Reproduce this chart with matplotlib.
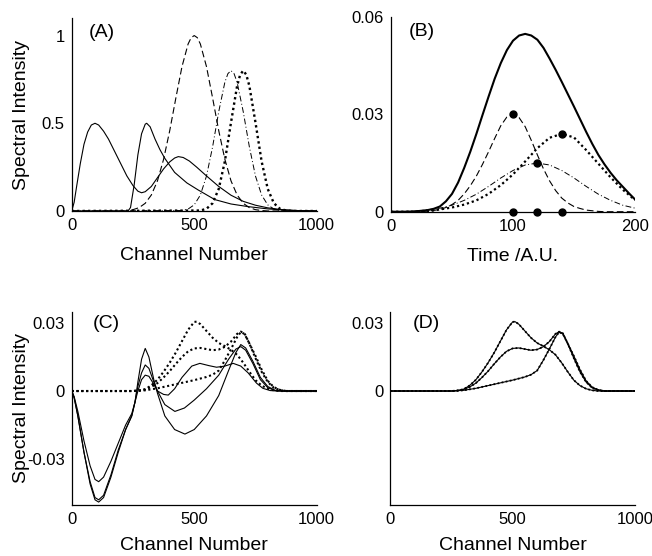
import matplotlib
matplotlib.use('Agg')
import matplotlib.pyplot as plt

plt.rcParams['font.family'] = ['Liberation Sans', 'DejaVu Sans']

# ---- (A) component spectra vs channel ----
a1_x = [0, 10, 20, 35, 50, 65, 80, 95, 110, 130, 150, 175, 200, 225, 250, 270, 285, 300, 325, 350,
        375, 400, 420, 435, 455, 480, 510, 550, 600, 650, 700, 750, 800, 850, 900, 950, 1000]
a1_y = [0, 0.05, 0.14, 0.27, 0.38, 0.45, 0.49, 0.50, 0.49, 0.455, 0.41, 0.34, 0.27, 0.20, 0.145, 0.113, 0.104, 0.11, 0.14, 0.19,
        0.24, 0.28, 0.302, 0.31, 0.305, 0.285, 0.25, 0.20, 0.14, 0.09, 0.055, 0.033, 0.018, 0.009, 0.004, 0.001, 0]

a2_x = [0, 230, 240, 255, 270, 285, 300, 306, 320, 340, 360, 380, 420, 470, 516, 584, 650, 720, 800, 870, 950, 1000]
a2_y = [0, 0, 0.02, 0.15, 0.32, 0.44, 0.495, 0.5, 0.48, 0.41, 0.35, 0.30, 0.22, 0.16, 0.12, 0.065, 0.04, 0.025, 0.012, 0.005, 0.001, 0]

a3_x = [0, 225, 250, 275, 300, 325, 350, 375, 400, 425, 450, 475, 487.5, 500, 512.5, 525, 550, 575, 600,
        625, 650, 675, 700, 725, 750, 775, 800, 1000]
a3_y = [0, 0, 0.0076, 0.0192, 0.0439, 0.0914, 0.172, 0.295, 0.458, 0.644, 0.823, 0.952, 0.988, 1.0, 0.988, 0.952, 0.823, 0.644, 0.458,
        0.295, 0.172, 0.0914, 0.0439, 0.0192, 0.0076, 0.0027, 0, 0]

a4_x = [0, 450, 475, 500, 525, 550, 575, 600, 625, 637.5, 650, 662.5, 675, 700, 725, 750, 775, 800, 825, 850, 875, 1000]
a4_y = [0, 0.003, 0.0114, 0.035, 0.091, 0.199, 0.366, 0.566, 0.734, 0.783, 0.80, 0.783, 0.734, 0.566, 0.366, 0.199, 0.091, 0.035, 0.0114, 0.003, 0, 0]

a5_x = [0, 525, 550, 575, 600, 625, 650, 675, 687.5, 700, 712.5, 725, 750, 775, 800, 825, 850, 875, 900, 1000]
a5_y = [0, 0.0028, 0.0125, 0.0445, 0.126, 0.283, 0.504, 0.713, 0.777, 0.80, 0.777, 0.713, 0.504, 0.283, 0.126, 0.0445, 0.0125, 0.0028, 0, 0]

# ---- (B) time profiles ----
b_t_fine = [0, 10, 20, 25, 30, 35, 40, 45, 50, 55, 60, 65, 70, 75, 80, 85, 90, 95, 100, 105, 110, 115, 120,
            125, 130, 135, 140, 145, 150, 155, 160, 165, 170, 175, 180, 185, 190, 195, 200]
b_total = [0, 0, 0.0001, 0.0003, 0.0005, 0.0009, 0.0016, 0.0032, 0.0055, 0.0090, 0.0135, 0.0185, 0.024, 0.0298,
           0.0355, 0.041, 0.0458, 0.0498, 0.0527, 0.0543, 0.0548, 0.0543, 0.0530, 0.0505, 0.0472, 0.0437, 0.040,
           0.0362, 0.0324, 0.0285, 0.0246, 0.0209, 0.0175, 0.0146, 0.0120, 0.0097, 0.0077, 0.0057, 0.0038]
b_dash = [0, 0, 0, 0, 0.0002, 0.0004, 0.0007, 0.0013, 0.0022, 0.0035, 0.0055, 0.008, 0.011, 0.0146, 0.0185,
          0.0226, 0.0265, 0.0292, 0.0300, 0.0290, 0.0262, 0.022, 0.0175, 0.0132, 0.0095, 0.0065, 0.0042, 0.0027,
          0.0016, 0.001, 0.0005, 0.0003, 0.0001, 0, 0, 0, 0, 0, 0]
b_t = [0, 10, 20, 30, 40, 50, 60, 70, 80, 90, 100, 110, 120, 130, 140, 150, 160, 170, 180, 190, 200]
b_dot = [0, 0, 0.00002, 0.0001, 0.0007, 0.0013, 0.0022, 0.0035, 0.0055, 0.0082, 0.0115, 0.0155, 0.0196, 0.0228,
         0.0240, 0.0229, 0.019, 0.0148, 0.0106, 0.0068, 0.0036]
b_dashdot = [0, 0, 0.00025, 0.0006, 0.0011, 0.002, 0.0035, 0.0054, 0.0078, 0.0104, 0.0127, 0.0144, 0.015, 0.0144,
             0.0127, 0.0104, 0.0078, 0.0054, 0.0035, 0.002, 0.0011]
b_mark_t = [100, 120, 140]
b_mark_y = [0.030, 0.015, 0.024]

# ---- (C) difference spectra (solid) ----
ca_x = [0, 10, 25, 50, 75, 95, 110, 130, 160, 190, 220, 245, 258, 270, 285, 300, 315, 335, 350, 380, 420, 462,
        500, 550, 600, 640, 670, 690, 710, 740, 770, 800, 830, 860, 1000]
ca_y = [0, -0.003, -0.011, -0.027, -0.041, -0.048, -0.049, -0.047, -0.038, -0.027, -0.017, -0.011, -0.005, 0.004,
        0.014, 0.0188, 0.015, 0.005, -0.001, -0.011, -0.017, -0.019, -0.017, -0.011, -0.002, 0.009, 0.017, 0.0205,
        0.019, 0.013, 0.006, 0.002, 0.0003, 0, 0]
cb_x = [0, 10, 25, 50, 75, 95, 110, 130, 160, 190, 220, 245, 258, 270, 285, 300, 315, 335, 350, 380, 421, 460,
        500, 550, 600, 640, 670, 690, 710, 740, 770, 800, 830, 860, 1000]
cb_y = [0, -0.003, -0.011, -0.027, -0.040, -0.047, -0.048, -0.046, -0.037, -0.026, -0.017, -0.011, -0.005, 0.002,
        0.008, 0.0115, 0.010, 0.004, 0.0, -0.006, -0.009, -0.0075, -0.004, 0.001, 0.007, 0.014, 0.0185, 0.0196,
        0.018, 0.012, 0.005, 0.0015, 0.0002, 0, 0]
cc_x = [0, 10, 25, 50, 75, 95, 110, 130, 160, 190, 220, 245, 258, 270, 285, 300, 315, 335, 350, 375, 394, 420,
        450, 490, 523, 560, 591, 625, 659, 690, 720, 754, 780, 810, 840, 1000]
cc_y = [0, -0.0025, -0.009, -0.022, -0.033, -0.039, -0.040, -0.038, -0.031, -0.023, -0.015, -0.010, -0.005, 0.0,
        0.005, 0.007, 0.0065, 0.003, 0.0, -0.0015, -0.0018, 0.001, 0.006, 0.011, 0.0122, 0.0112, 0.0105, 0.011,
        0.0122, 0.011, 0.008, 0.0035, 0.0012, 0.0002, 0, 0]

# ---- (C)/(D) time-resolved spectra ----
d1_x = [0, 250, 275, 300, 325, 350, 375, 400, 425, 450, 475, 500, 510, 525, 550, 575, 600, 625, 650, 675, 700,
        725, 750, 775, 800, 825, 850, 1000]
d1_y = [0, 0, 0.0002, 0.0008, 0.0025, 0.005, 0.0085, 0.0125, 0.017, 0.022, 0.027, 0.0305, 0.0306, 0.0295, 0.0265,
        0.0235, 0.0212, 0.0198, 0.0182, 0.016, 0.0125, 0.0085, 0.0048, 0.0024, 0.001, 0.0003, 0, 0]
d2_x = [0, 250, 275, 300, 325, 350, 375, 400, 425, 450, 475, 500, 525, 550, 575, 600, 625, 650, 675, 690, 705,
        725, 750, 775, 800, 825, 850, 875, 1000]
d2_y = [0, 0, 0.0002, 0.0007, 0.0018, 0.0035, 0.006, 0.0088, 0.012, 0.015, 0.0175, 0.0188, 0.019, 0.0185, 0.018,
        0.0183, 0.0195, 0.0218, 0.0252, 0.0262, 0.0255, 0.021, 0.0155, 0.0095, 0.0045, 0.0017, 0.0005, 0, 0]
d3_x = [0, 250, 300, 350, 400, 450, 500, 550, 575, 600, 625, 650, 675, 690, 705, 725, 750, 775, 800, 825, 850,
        875, 1000]
d3_y = [0, 0, 0.0003, 0.0012, 0.0024, 0.0036, 0.0048, 0.0062, 0.0072, 0.009, 0.0135, 0.0185, 0.0238, 0.026,
        0.0252, 0.021, 0.0145, 0.0085, 0.004, 0.0014, 0.0004, 0, 0]

K = 'black'
DASH = (0, (6, 3))
DASHDOT = (0, (6, 2.5, 1, 2.5))
DOT = (0, (1, 1.3))
FS_TICK = 12
FS_LAB = 14
YLAB_X = -0.204  # y-label centre, same place in (A) and (C)


def style(ax):
    for s in ('top', 'right'):
        ax.spines[s].set_visible(False)
    for s in ('left', 'bottom'):
        ax.spines[s].set_linewidth(0.9)
    ax.tick_params(length=0, labelsize=FS_TICK, pad=5)


fig = plt.figure(figsize=(6.52, 5.56), dpi=100)

# (A)
ax = fig.add_axes([0.110, 0.6205, 0.3758, 0.3471])
ax.plot(a1_x, a1_y, color=K, lw=0.8)
ax.plot(a2_x, a2_y, color=K, lw=0.8)
ax.plot(a3_x, a3_y, color=K, lw=0.8, linestyle=DASH)
ax.plot(a4_x, a4_y, color=K, lw=0.7, linestyle=DASHDOT)
ax.plot(a5_x, a5_y, color=K, lw=1.7, linestyle=DOT)
ax.set_xlim(0, 1000)
ax.set_ylim(0, 1.1)
ax.set_xticks([0, 500, 1000])
ax.set_yticks([0, 0.5, 1])
ax.set_yticklabels(['0', '0.5', '1'])
ax.set_xlabel('Channel Number', fontsize=FS_LAB, labelpad=10)
ax.set_ylabel('Spectral Intensity', fontsize=FS_LAB, va='center')
ax.yaxis.set_label_coords(YLAB_X, 0.5)
ax.text(0.122, 0.925, '(A)', transform=ax.transAxes, fontsize=FS_LAB, ha='center', va='center')
style(ax)

# (B)
ax = fig.add_axes([0.5997, 0.6192, 0.3742, 0.3502])
ax.plot(b_t_fine, b_total, color=K, lw=1.5)
ax.plot(b_t_fine, b_dash, color=K, lw=0.8, linestyle=DASH)
ax.plot(b_t, b_dashdot, color=K, lw=0.7, linestyle=DASHDOT)
ax.plot(b_t, b_dot, color=K, lw=1.6, linestyle=DOT)
ax.plot(b_mark_t, b_mark_y, 'o', color=K, ms=5, linestyle='none')
ax.plot(b_mark_t, [0] * len(b_mark_t), 'o', color=K, ms=5, linestyle='none', clip_on=False)
ax.set_xlim(0, 200)
ax.set_ylim(0, 0.06)
ax.set_xticks([0, 100, 200])
ax.set_yticks([0, 0.03, 0.06])
ax.set_yticklabels(['0', '0.03', '0.06'])
ax.set_xlabel('Time /A.U.', fontsize=FS_LAB, labelpad=10)
ax.text(0.126, 0.925, '(B)', transform=ax.transAxes, fontsize=FS_LAB, ha='center', va='center')
style(ax)

# (C)
ax = fig.add_axes([0.110, 0.0917, 0.3758, 0.3477])
for xs, ys in ((ca_x, ca_y), (cb_x, cb_y), (cc_x, cc_y)):
    ax.plot(xs, ys, color=K, lw=0.8)
for xs, ys in ((d1_x, d1_y), (d2_x, d2_y), (d3_x, d3_y)):
    ax.plot(xs, ys, color=K, lw=1.5, linestyle=DOT)
ax.set_xlim(0, 1000)
ax.set_ylim(-0.0503, 0.035)
ax.set_xticks([0, 500, 1000])
ax.set_yticks([-0.03, 0, 0.03])
ax.set_yticklabels(['-0.03', '0', '0.03'])
ax.set_xlabel('Channel Number', fontsize=FS_LAB, labelpad=7)
ax.set_ylabel('Spectral Intensity', fontsize=FS_LAB, va='center')
ax.yaxis.set_label_coords(YLAB_X, 0.5)
ax.text(0.143, 0.94, '(C)', transform=ax.transAxes, fontsize=FS_LAB, ha='center', va='center')
style(ax)

# (D)
ax = fig.add_axes([0.5986, 0.0917, 0.3753, 0.3477])
for xs, ys in ((d1_x, d1_y), (d2_x, d2_y), (d3_x, d3_y)):
    ax.plot(xs, ys, color=K, lw=0.8)
    ax.plot(xs, ys, color=K, lw=1.3, linestyle=DOT)
ax.set_xlim(0, 1000)
ax.set_ylim(-0.0503, 0.035)
ax.set_xticks([0, 500, 1000])
ax.set_yticks([0, 0.03])
ax.set_yticklabels(['0', '0.03'])
ax.set_xlabel('Channel Number', fontsize=FS_LAB, labelpad=7)
ax.text(0.149, 0.94, '(D)', transform=ax.transAxes, fontsize=FS_LAB, ha='center', va='center')
style(ax)

fig.savefig('out.png', dpi=100)
